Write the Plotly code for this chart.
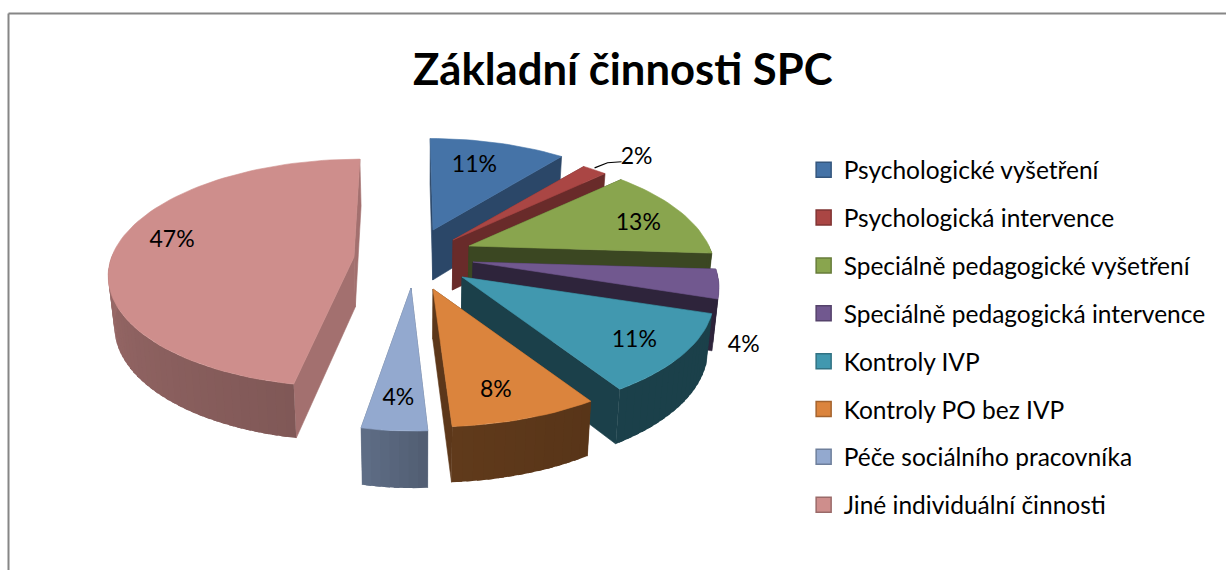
import math
import plotly.graph_objects as go

# ---- data ----
categories = ["Psychologické vyšetření", "Psychologická intervence", "Speciálně pedagogické vyšetření",
              "Speciálně pedagogická intervence", "Kontroly IVP", "Kontroly PO bez IVP",
              "Péče sociálního pracovníka", "Jiné individuální činnosti"]
values = [11, 2, 13, 4, 11, 8, 4, 47]
title_text = "Základní činnosti SPC"

# ---- styles ----
top_colors = ["#4573A7", "#AA4644", "#89A54E", "#71588F", "#4198AF", "#DB843D", "#93A9CF", "#CE8E8C"]
radial_dark = [0.62, 0.62, 0.43, 0.41, 0.42, 0.42, 0.62, 0.79]
arc_dark_start = [0.62, 0.62, 0.43, 0.41, 0.42, 0.40, 0.55, 0.62]
arc_dark_end = [0.62, 0.62, 0.43, 0.41, 0.42, 0.44, 0.65, 0.88]

# ---- 3D projection parameters (exploded slice tips in pixel space) ----
tip_x = [433, 453, 469, 473, 462, 433, 411, 354]
tip_y = [230, 240, 246, 262, 277, 289, 288, 257]
persp = [0.22, 0.22, 0.22, 0.22, 0.19, 0.19, 0.22, 0.14]
x_scale = [1, 1, 1, 1, 1.03, 1.03, 0.87, 1.01]
shear = [-0.03, 0, 0, 0, 0, 0, 0, 0.06]
label_r = [0.72, 1.294, 0.78, 1.157, 0.80, 0.79, 0.80, 0.795]
label_dtheta = [-3, 2, 2, 22, 0, 2, 0, 7.7]
label_dy = 3.5
R, TILT = 240, 0.465
W, H = 1226, 570


def top(i, deg, r=1.0):
    a = math.radians(deg)
    u, v = r * math.sin(a), r * math.cos(a)
    s = 1 / (1 + persp[i] * v)
    dy = -R * TILT * v * s
    return tip_x[i] + R * x_scale[i] * u * s - shear[i] * dy, tip_y[i] + dy, s


def bottom(i, deg, r=1.0):
    x, y, s = top(i, deg, r)
    return x + (420 - x) * 0.02, y + 50 + 25 * (s - 1)


def shade(color, f):
    c = [int(color[j:j + 2], 16) for j in (1, 3, 5)]
    return "rgb(%d,%d,%d)" % tuple(round(min(255, k * f)) for k in c)


def poly(fig, pts, color, width=0.6):
    xs = [p[0] for p in pts] + [pts[0][0]]
    ys = [p[1] for p in pts] + [pts[0][1]]
    fig.add_trace(go.Scatter(x=xs, y=ys, mode="lines", fill="toself", fillcolor=color,
                             line=dict(color=color, width=width), showlegend=False, hoverinfo="skip"))


fig = go.Figure()
total = sum(values)
cum = 0
label_x, label_y, label_text = [], [], []
for i, val in enumerate(values):
    t0 = cum / total * 360
    t1 = (cum + val) / total * 360
    cum += val
    col = top_colors[i]
    wall = shade(col, radial_dark[i])
    # radial walls
    for edge in (t0, t1):
        a = top(i, edge)
        poly(fig, [(tip_x[i], tip_y[i]), a[:2], bottom(i, edge), bottom(i, edge, 0)], wall)
    # outer wall: overlapping strips, shaded along the arc
    n = max(2, int((t1 - t0) / 2))
    step = (t1 - t0) / n
    for k in range(n):
        a0 = t0 + step * k
        a1 = min(t1, a0 + step * 1.6)
        if math.cos(math.radians(a0 + step / 2)) > 0.02:
            continue
        f = arc_dark_start[i] + (arc_dark_end[i] - arc_dark_start[i]) * (k + 0.5) / n
        arc = [a0 + (a1 - a0) * j / 4 for j in range(5)]
        poly(fig, [top(i, a)[:2] for a in arc] + [bottom(i, a) for a in reversed(arc)],
             shade(col, f), width=0)
    # top face
    m = max(4, int((t1 - t0) / 2))
    face = [(tip_x[i], tip_y[i])] + [top(i, t0 + (t1 - t0) * k / m)[:2] for k in range(m + 1)]
    poly(fig, face, col)
    lx, ly, _ = top(i, (t0 + t1) / 2 + label_dtheta[i], label_r[i])
    label_x.append(lx)
    label_y.append(ly + label_dy)
    label_text.append(f"{val}%")

# leader line of the 2 % label
mid = (values[0] + values[1] / 2) / total * 360
p0 = top(1, mid, 1.0)
fig.add_trace(go.Scatter(x=[p0[0], label_x[1] - 29, label_x[1] - 15], y=[p0[1] - 2, label_y[1] + 4, label_y[1] + 3],
                         mode="lines", line=dict(color="#000000", width=1.2), showlegend=False, hoverinfo="skip"))

# data labels
fig.add_trace(go.Scatter(x=label_x, y=label_y, text=label_text, mode="text", textposition="middle center",
                         textfont=dict(family="Lato", size=23, color="#000000"), showlegend=False, hoverinfo="skip"))

# legend
for i, name in enumerate(categories):
    fig.add_trace(go.Scatter(x=[None], y=[None], mode="markers", name=name, legendgroup=name,
                             marker=dict(symbol="square", size=15, color=top_colors[i],
                                         line=dict(color=shade(top_colors[i], 0.75), width=1.5))))

fig.update_layout(
    width=W, height=H, margin=dict(l=0, r=0, t=0, b=0), autosize=False,
    paper_bgcolor="#FFFFFF", plot_bgcolor="#FFFFFF",
    title=dict(text=title_text, x=0.508, xanchor="center", y=0.878, yanchor="middle",
               font=dict(family="Lato", size=43.6, color="#000000", weight="bold")),
    xaxis=dict(range=[0, W], visible=False, fixedrange=True),
    yaxis=dict(range=[H, 0], visible=False, fixedrange=True),
    legend=dict(x=0.6555, y=0.7415, xanchor="left", yanchor="top", tracegroupgap=13, borderwidth=0,
                bgcolor="rgba(0,0,0,0)", font=dict(family="Lato", size=24.5, color="#000000")),
    shapes=[
        dict(type="line", xref="x", yref="y", x0=8.5, x1=8.5, y0=13.5, y1=H, line=dict(color="#868686", width=2)),
        dict(type="line", xref="x", yref="y", x0=8.5, x1=W, y0=13.5, y1=13.5, line=dict(color="#868686", width=2)),
    ],
)
fig.write_html("out.html", post_script="document.body.style.margin='0';", config={"displayModeBar": False})
